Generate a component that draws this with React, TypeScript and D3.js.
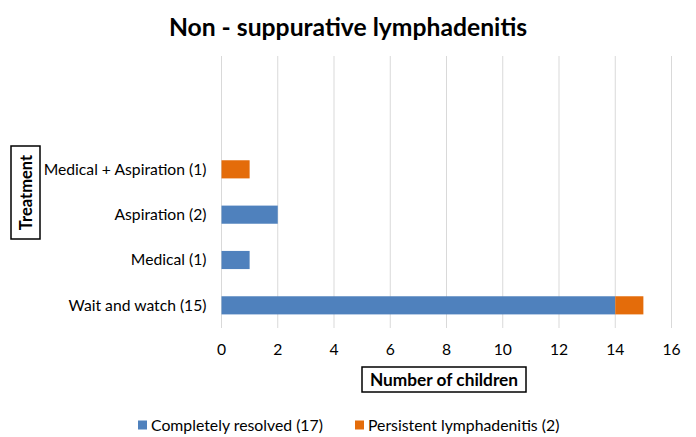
import React from 'react';
import * as d3 from 'd3';

// chart values (bottom to top)
const categories = ['Wait and watch (15)', 'Medical (1)', 'Aspiration (2)', 'Medical + Aspiration (1)'];
const resolved = [14, 1, 2, 0];
const persistent = [1, 0, 0, 1];
const xTicks = [0, 2, 4, 6, 8, 10, 12, 14, 16];
const seriesNames = ['Completely resolved (17)', 'Persistent lymphadenitis (2)'];
const seriesColors = ['#4f81bd', '#e46c0a'];
// the original axis has two empty slots above the last category
const slotCount = 6;

const W = 696;
const H = 437;
const FONT = 'Lato, "Open Sans", sans-serif';

const App = () => {
  const margin = { top: 56, right: 24, bottom: 109, left: 221.5 };
  const plotW = 671.5 - margin.left;
  const plotH = H - margin.top - margin.bottom;

  const x = d3.scaleLinear().domain([0, 16]).range([0, plotW]);
  const slots = d3.range(slotCount);
  const y = d3
    .scaleBand<number>()
    .domain(slots)
    .range([plotH, 0])
    .paddingInner(0.6)
    .paddingOuter(0.3);

  const stacked = categories.map((c, i) => ({
    cat: c,
    i,
    parts: [
      { x0: 0, x1: resolved[i], color: seriesColors[0] },
      { x0: resolved[i], x1: resolved[i] + persistent[i], color: seriesColors[1] },
    ],
  }));

  return (
    <svg width={W} height={H} style={{ position: 'absolute', left: 0, top: 0, background: '#fff' }} fontFamily={FONT}>
      {/* title */}
      <text x={W / 2} y={36} textAnchor="middle" fontSize={24.7} fontWeight="bold" fill="#000">
        Non - suppurative lymphadenitis
      </text>

      <g transform={`translate(${margin.left},${margin.top})`}>
        {/* gridlines */}
        {xTicks.map(t => (
          <line key={t} x1={x(t)} x2={x(t)} y1={0} y2={plotH} stroke="#d9d9d9" strokeWidth={1} />
        ))}

        {/* bars */}
        {stacked.map(d =>
          d.parts
            .filter(p => p.x1 > p.x0)
            .map((p, k) => (
              <rect
                key={d.cat + k}
                x={x(p.x0)}
                y={y(d.i)}
                width={x(p.x1) - x(p.x0)}
                height={y.bandwidth()}
                fill={p.color}
              />
            ))
        )}

        {/* category labels */}
        {categories.map((c, i) => (
          <text
            key={c}
            x={-15}
            y={(y(i) as number) + y.bandwidth() / 2}
            dy="0.35em"
            textAnchor="end"
            fontSize={15.7}
            fill="#000"
          >
            {c}
          </text>
        ))}

        {/* x tick labels */}
        {xTicks.map(t => (
          <text key={t} x={x(t)} y={plotH + 22} dy="0.35em" textAnchor="middle" fontSize={15.7} fill="#000">
            {t}
          </text>
        ))}
      </g>

      {/* x axis title */}
      <rect x={362} y={367} width={164} height={25} fill="#fff" stroke="#000" strokeWidth={1.5} />
      <text x={444} y={380} dy="0.35em" textAnchor="middle" fontSize={17.3} fontWeight="bold">
        Number of children
      </text>

      {/* y axis title */}
      <rect x={11} y={146} width={29} height={93} fill="#fff" stroke="#000" strokeWidth={1.5} />
      <text
        transform={`translate(26,${(146 + 239) / 2}) rotate(-90)`}
        dy="0.35em"
        textAnchor="middle"
        fontSize={16.5}
        fontWeight="bold"
      >
        Treatment
      </text>

      {/* legend */}
      {seriesNames.map((s, i) => {
        const lx = i === 0 ? 138 : 355;
        return (
          <g key={s} transform={`translate(${lx},425)`}>
            <rect x={0} y={-4.5} width={9} height={9} fill={seriesColors[i]} />
            <text x={13} dy="0.35em" fontSize={15.8} fill="#000">
              {s}
            </text>
          </g>
        );
      })}
    </svg>
  );
};

export default App;
